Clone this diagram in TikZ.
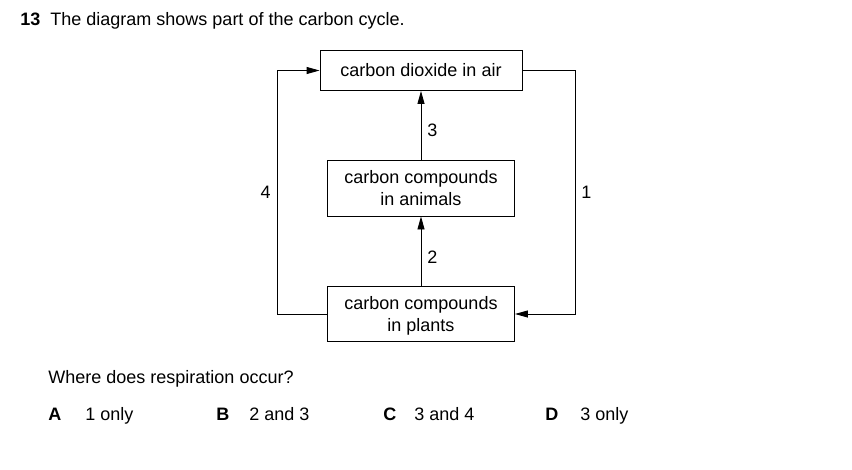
\documentclass[tikz,border=0pt]{standalone}
\usepackage{fontspec}
\setmainfont{Liberation Sans}
\usetikzlibrary{arrows.meta,calc}

\tikzset{
  stagebox/.style={draw,line width=0.9pt,align=center,inner sep=0pt},
  plain/.style={anchor=base west,inner sep=0pt},
  steplabel/.style={inner sep=6pt},
}

\begin{document}
\begin{tikzpicture}[x=1pt,y=-1pt,line width=0.9pt,
    >={Triangle[length=13pt,width=7pt]},
    font=\fontsize{18}{22}\selectfont]
    \useasboundingbox (0,0) rectangle (852,469);
    % question text
    \node[plain] (qnum) at (20,25) {\textbf{13}};
    \node[plain] (qtext) at (50,25) {The diagram shows part of the carbon cycle.};
    % boxes
    \node[stagebox,minimum width=202pt,minimum height=40pt] (co2) at (421,70.5) {carbon dioxide in air};
    \node[stagebox,minimum width=187pt,minimum height=56pt] (animals) at (421,188) {carbon compounds\\in animals};
    \node[stagebox,minimum width=187pt,minimum height=55pt] (plants) at (421,314) {\rule{0pt}{17pt}carbon compounds\\in plants};
    \coordinate (lt) at (277,70.5);
    \coordinate (rt) at (575,314);
    \path[->]
      (animals) edge node[right,steplabel,pos=0.42]{3} (co2)
      (plants) edge node[right,steplabel,pos=0.42]{2} (animals);
    \draw[->] (plants.west) -| node[pos=0.75,left,steplabel]{4} (lt) -- (co2.west);
    \draw[->] (co2.east) -| node[pos=0.75,right,steplabel]{1} (rt) -- (plants.east);
    % answers
    \node[plain] (ask) at (48,383) {Where does respiration occur?};
    \node[plain] (ka) at (48,420) {\textbf{A}};
    \node[plain] (ta) at (85,420) {1 only};
    \node[plain] (kb) at (216,420) {\textbf{B}};
    \node[plain] (tb) at (249,420) {2 and 3};
    \node[plain] (kc) at (383,420) {\textbf{C}};
    \node[plain] (tc) at (414,420) {3 and 4};
    \node[plain] (kd) at (545,420) {\textbf{D}};
    \node[plain] (td) at (580,420) {3 only};
\end{tikzpicture}
\end{document}
